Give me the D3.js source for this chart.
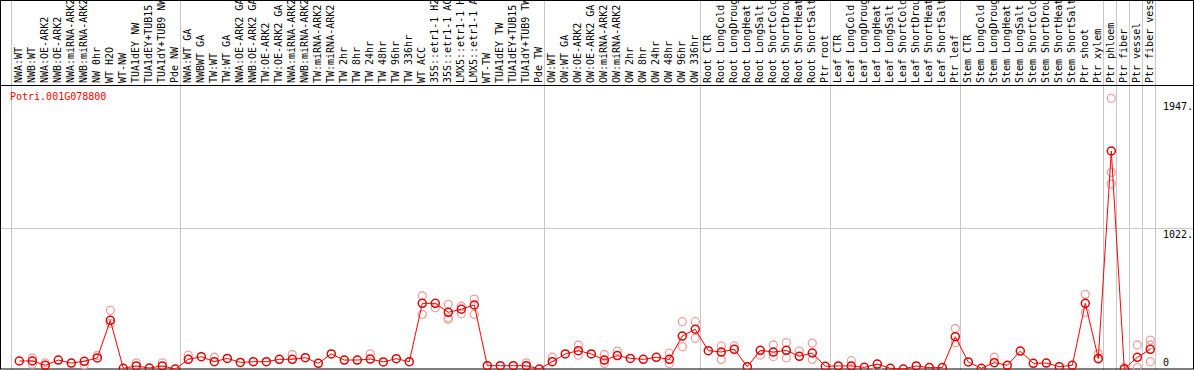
<!DOCTYPE html>
<html><head><meta charset="utf-8">
<script src="https://cdn.jsdelivr.net/npm/d3@7"></script>
<style>body{margin:0;background:#fff}svg{display:block}text{font-family:"DejaVu Sans Mono",monospace;font-size:10px}</style>
</head><body><svg id="c" width="1194" height="370"></svg>
<script>
const categories = ["NWA:WT","NWB:WT","NWA:OE-ARK2","NWB:OE-ARK2","NWA:miRNA-ARK2","NWB:miRNA-ARK2","NW 0hr","WT H2O","WT-NW","TUA1dEY NW","TUA1dEY+TUB15 NW","TUA1dY+TUB9 NW","Pde NW",
"NWA:WT GA","NWBWT GA","TW:WT","TW:WT GA","NWA:OE-ARK2 GA","NWB:OE-ARK2 GA","TW:OE-ARK2","TW:OE-ARK2 GA","NWA:miRNA-ARK2","NWB:miRNA-ARK2","TW:miRNA-ARK2","TW:miRNA-ARK2","TW 2hr","TW 8hr","TW 24hr","TW 48hr","TW 96hr","TW 336hr","WT ACC","35S::etr1-1 H2O","35S::etr1-1 ACC","LMX5::etr1-1 H2O","LMX5::etr1-1 ACC","WT-TW","TUA1dEY TW","TUA1dEY+TUB15 TW","TUA1dY+TUB9 TW","Pde TW",
"OW:WT","OW:WT GA","OW:OE-ARK2","OW:OE-ARK2 GA","OW:miRNA-ARK2","OW:miRNA-ARK2","OW 2hr","OW 8hr","OW 24hr","OW 48hr","OW 96hr","OW 336hr",
"Root CTR","Root LongCold","Root LongDrought","Root LongHeat","Root LongSalt","Root ShortCold","Root ShortDrought","Root ShortHeat","Root ShortSalt","Ptr root",
"Leaf CTR","Leaf LongCold","Leaf LongDrought","Leaf LongHeat","Leaf LongSalt","Leaf ShortCold","Leaf ShortDrought","Leaf ShortHeat","Leaf ShortSalt","Ptr leaf",
"Stem CTR","Stem LongCold","Stem LongDrought","Stem LongHeat","Stem LongSalt","Stem ShortCold","Stem ShortDrought","Stem ShortHeat","Stem ShortSalt","Ptr shoot","Ptr xylem",
"Ptr phloem","Ptr fiber","Ptr vessel","Ptr fiber vessel"];
const groupStarts = [0,13,41,53,63,73,84,85,86,87,88];
const meanValues = [58,58,27,65,43,56,80,353,5,22,7,22,0,
70,89,53,77,48,53,53,70,70,82,41,109,65,65,72,51,75,53,476,476,411,433,464,24,24,24,24,0,
53,109,133,109,65,97,77,70,85,70,239,288,
133,123,143,17,135,123,135,92,116,20,
22,22,12,36,5,0,22,10,10,234,
51,5,46,27,130,41,43,17,27,476,77,
1580,0,85,143];
const replicateValues = [
[[1,80],[1,35]],[[2,45]],[[5,30]],[[6,98]],[[7,425],[7,331]],[[9,45]],[[11,45]],
[[13,100]],[[15,85]],[[21,105]],[[27,110]],
[[31,531],[31,396]],[[32,444]],[[33,469],[33,372],[33,360]],[[34,455],[34,400]],[[35,507],[35,396]],[[39,45]],
[[41,85]],[[43,174],[43,100]],[[45,105],[45,40]],[[46,130]],[[50,115],[50,40]],
[[51,343],[51,162]],[[52,343],[52,222]],[[54,167],[54,70]],[[55,167]],[[57,100]],[[58,174],[58,90]],[[59,191],[59,80]],[[60,130]],[[61,188],[61,70]],
[[64,60]],[[66,5]],[[72,295],[72,191]],[[75,85]],
[[82,541],[82,411]],[[83,110],[83,70]],
[[84,1962],[84,1425],[84,1341]],[[85,10]],[[86,174],[86,10]],[[87,210],[87,174],[87,53]]
].flat();
const yTicks = [1947,1022,0];
const yTickLabels = ["1947.","1022.","0"];
const geneName = "Potri.001G078800";

const svg = d3.select("#c");
const W = 1194, H = 370;
const x = d3.scaleBand().domain(d3.range(categories.length)).range([10.8, 10.8 + 13*categories.length]).padding(0);
const px = i => x(i) + 8.5;
const y = d3.scaleLinear().domain([0, 1022]).range([369, 228]);

svg.append("line").attr("x1",0).attr("x2",W).attr("y1",Math.round(y(1022))+0.5).attr("y2",Math.round(y(1022))+0.5).attr("stroke","#c8c8c8");
svg.selectAll("line.v").data(groupStarts).join("line").attr("class","v")
  .attr("x1",d=>Math.round(x.range()[0]+13*d)+0.5).attr("x2",d=>Math.round(x.range()[0]+13*d)+0.5)
  .attr("y1",0).attr("y2",H).attr("stroke","#c8c8c8");
svg.append("line").attr("x1",0).attr("x2",W).attr("y1",85.5).attr("y2",85.5).attr("stroke","#000");
svg.append("rect").attr("x",0.5).attr("y",0.5).attr("width",W-1).attr("height",368.5).attr("fill","none").attr("stroke","#000");

svg.selectAll("text.cat").data(categories).join("text").attr("class","cat")
  .attr("transform",(d,i)=>`translate(${px(i)+3},83) rotate(-90)`)
  .attr("text-anchor","start")
  .text(d=>d);

svg.selectAll("text.yt").data(yTicks).join("text").attr("class","yt")
  .attr("x",1163).attr("y",d=> d===0 ? y(d)-3 : y(d)+10)
  .attr("fill","#000").text((d,i)=>yTickLabels[i]);

svg.append("text").attr("x",10).attr("y",100).attr("fill","#f00").text(geneName);

svg.selectAll("circle.rep").data(replicateValues).join("circle").attr("class","rep")
  .attr("cx",d=>px(d[0])).attr("cy",d=>y(d[1])).attr("r",4)
  .attr("fill","none").attr("stroke","#f0a0a0").attr("stroke-width",1.3);
svg.append("path").datum(meanValues)
  .attr("d", d3.line().x((d,i)=>px(i)).y(d=>y(d)))
  .attr("fill","none").attr("stroke","#f00").attr("stroke-width",1);
svg.selectAll("circle.m").data(meanValues).join("circle").attr("class","m")
  .attr("cx",(d,i)=>px(i)).attr("cy",d=>y(d)).attr("r",4)
  .attr("fill","none").attr("stroke","#e00000").attr("stroke-width",1.5);
</script></body></html>
